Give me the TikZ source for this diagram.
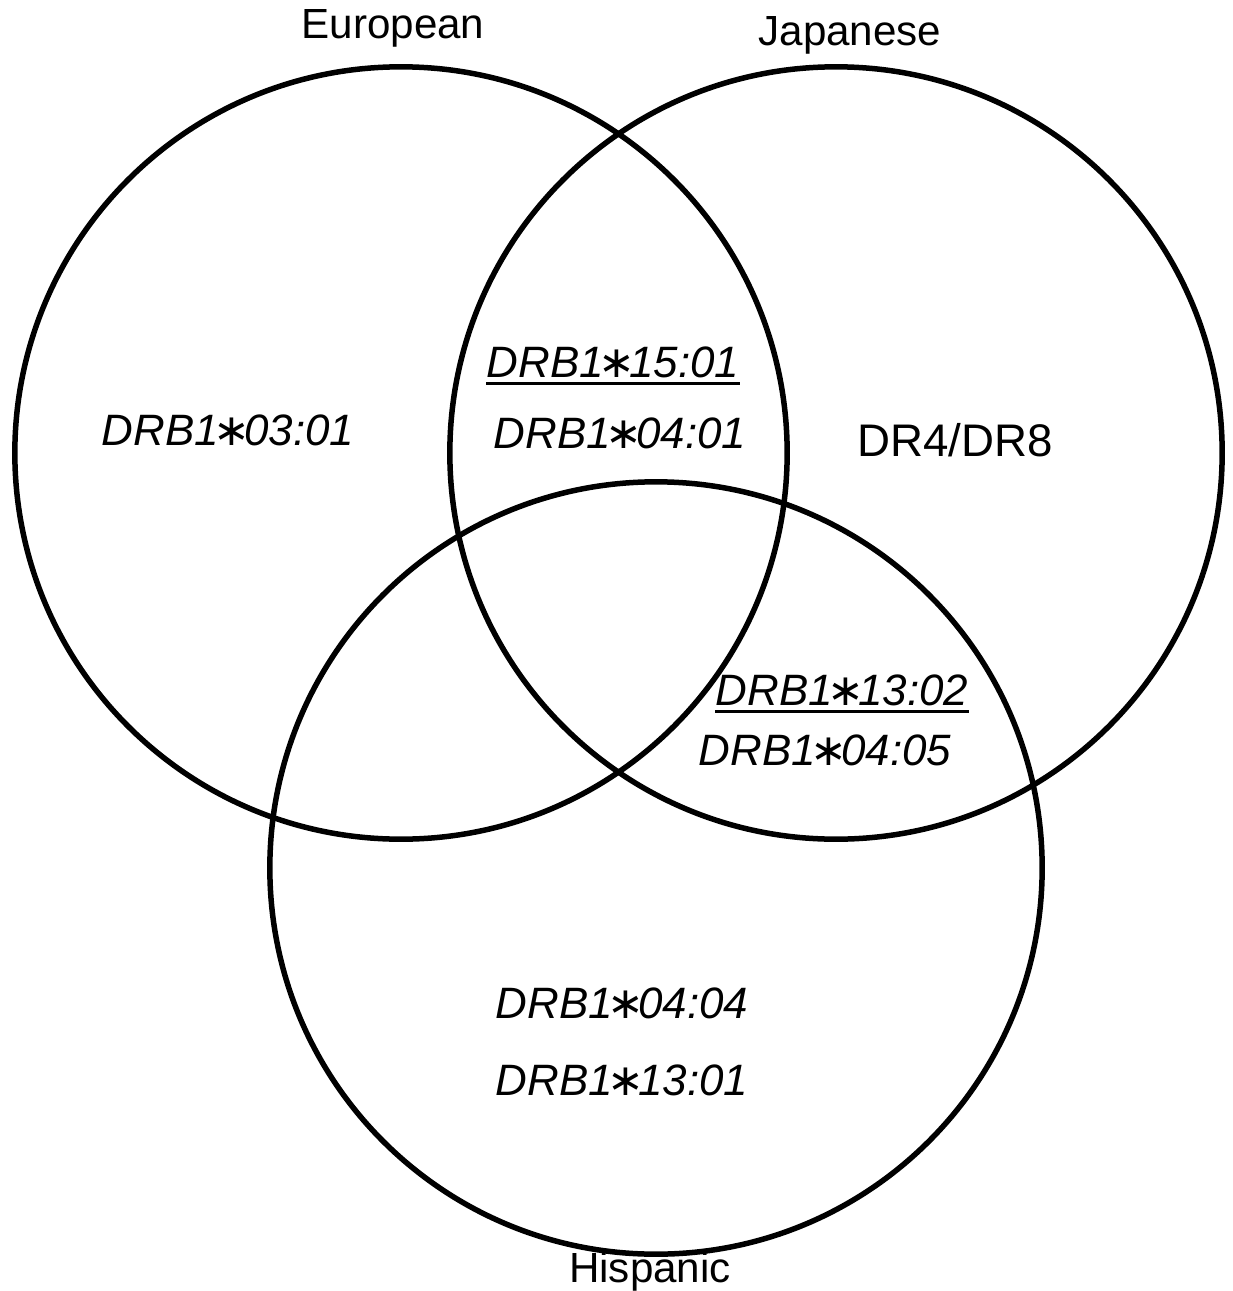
\documentclass[tikz,border=0pt]{standalone}
\usepackage{fontspec}
\setmainfont{Liberation Sans}
\newfontfamily\astfont{DejaVu Sans}
\newcommand\bigstar{\kern-0.13em{\astfont\char"2217}\kern-0.13em}
\begin{document}
\begin{tikzpicture}[x=0.02cm,y=-0.02cm,
  setcircle/.style={circle,draw=black,line width=0.11cm,minimum size=15.45cm,inner sep=0pt},
  grouplabel/.style={inner sep=0pt,font=\fontsize{24}{28}\selectfont},
  allele/.style={inner sep=0pt,font=\fontsize{25}{30}\selectfont\itshape},
  plainallele/.style={inner sep=0pt,font=\fontsize{26}{31}\selectfont},
  uline/.style={line width=0.06cm}]
\useasboundingbox (0,0) rectangle (1233,1291);
\node[setcircle] (eur) at (401,453) {};
\node[setcircle] (jap) at (836,453) {};
\node[setcircle] (his) at (656,868) {};
\node[grouplabel] (leur) at (393,28) {European};
\node[grouplabel] (ljap) at (850,35) {Japanese};
\node[grouplabel] (lhis) at (650,1272) {Hispanic};
\node[allele] (a0301) at (228,430) {DRB1\bigstar03:01};
\node[allele] (a1501) at (613,362) {DRB1\bigstar15:01};
\node[allele] (a0401) at (620,433) {DRB1\bigstar04:01};
\node[plainallele] (dr48) at (955,440) {DR4/DR8};
\node[allele] (a1302) at (842,690) {DRB1\bigstar13:02};
\node[allele] (a0405) at (825,750) {DRB1\bigstar04:05};
\node[allele] (a0404) at (622,1003) {DRB1\bigstar04:04};
\node[allele] (a1301) at (622,1080) {DRB1\bigstar13:01};
\draw[uline] ([yshift=-0.12cm]a1501.south west) -- ([yshift=-0.12cm]a1501.south east);
\draw[uline] ([yshift=-0.12cm]a1302.south west) -- ([yshift=-0.12cm]a1302.south east);
\end{tikzpicture}
\end{document}
